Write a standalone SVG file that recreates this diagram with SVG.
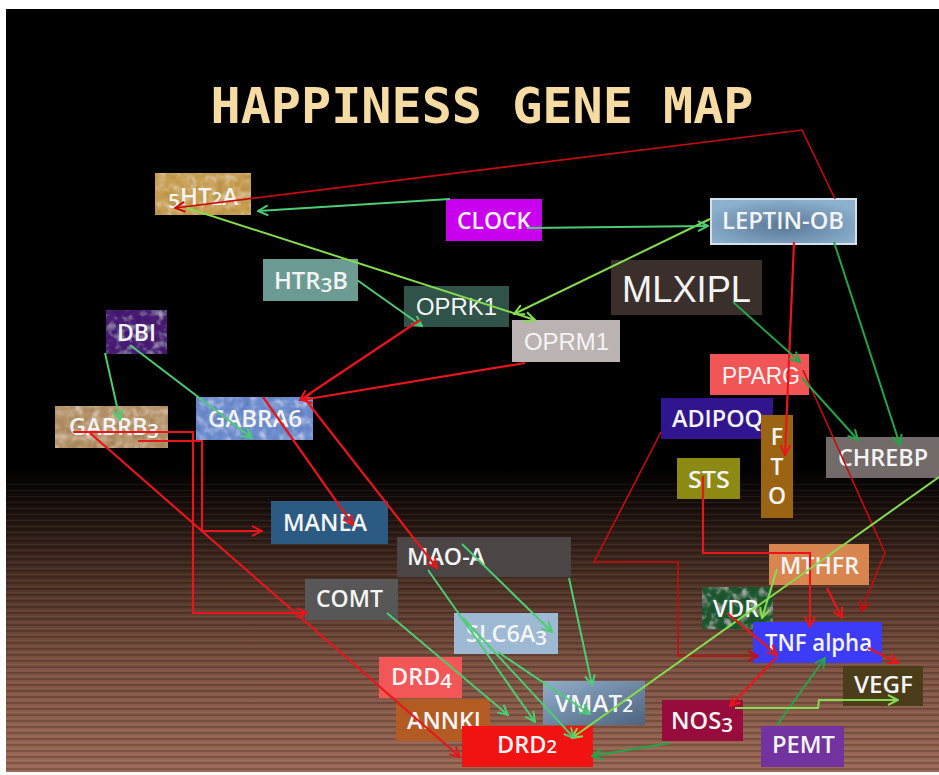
<svg xmlns="http://www.w3.org/2000/svg" width="939" height="775" viewBox="0 0 939 775">
<defs>
<linearGradient id="bg" x1="0" y1="0" x2="0" y2="1">
<stop offset="0" stop-color="#000"/>
<stop offset="0.60" stop-color="#000"/>
<stop offset="0.66" stop-color="#1e120e"/>
<stop offset="0.75" stop-color="#4e3226"/>
<stop offset="0.86" stop-color="#7d5242"/>
<stop offset="1" stop-color="#9c6a56"/>
</linearGradient>
<pattern id="stripes" width="10" height="6" patternUnits="userSpaceOnUse">
<rect width="10" height="2" fill="#000" fill-opacity="0.18"/>
<rect y="4" width="10" height="1" fill="#fff" fill-opacity="0.05"/>
</pattern>
<radialGradient id="leptin" cx="0.5" cy="0.6" r="0.6">
<stop offset="0" stop-color="#587896"/>
<stop offset="1" stop-color="#8db0cf"/>
</radialGradient>
<linearGradient id="vmat" x1="0" y1="0" x2="1" y2="1">
<stop offset="0" stop-color="#92aecb"/>
<stop offset="1" stop-color="#4c647e"/>
</linearGradient>
<filter id="tex" x="0" y="0" width="1" height="1">
<feTurbulence type="fractalNoise" baseFrequency="0.12" numOctaves="2" seed="4" result="n"/>
<feColorMatrix in="n" type="saturate" values="0" result="g"/>
<feComposite in="g" in2="SourceGraphic" operator="in" result="gi"/>
<feBlend in="SourceGraphic" in2="gi" mode="overlay"/>
</filter>
<marker id="mR" viewBox="0 0 12 12" refX="11" refY="6" markerWidth="12" markerHeight="12" orient="auto" markerUnits="userSpaceOnUse"><path d="M1,1 L11,6 L1,11" fill="none" stroke="#e8161a" stroke-width="2"/></marker>
<marker id="mDR" viewBox="0 0 12 12" refX="11" refY="6" markerWidth="12" markerHeight="12" orient="auto" markerUnits="userSpaceOnUse"><path d="M1,1 L11,6 L1,11" fill="none" stroke="#c80c0c" stroke-width="2"/></marker>
<marker id="mG" viewBox="0 0 12 12" refX="11" refY="6" markerWidth="12" markerHeight="12" orient="auto" markerUnits="userSpaceOnUse"><path d="M1,1 L11,6 L1,11" fill="none" stroke="#4ccc74" stroke-width="2"/></marker>
<marker id="mL" viewBox="0 0 12 12" refX="11" refY="6" markerWidth="12" markerHeight="12" orient="auto" markerUnits="userSpaceOnUse"><path d="M1,1 L11,6 L1,11" fill="none" stroke="#86dc4e" stroke-width="2"/></marker>
<marker id="mDG" viewBox="0 0 12 12" refX="11" refY="6" markerWidth="12" markerHeight="12" orient="auto" markerUnits="userSpaceOnUse"><path d="M1,1 L11,6 L1,11" fill="none" stroke="#22a648" stroke-width="2"/></marker>
</defs>
<style>
.lbl{font-family:"Open Sans","Noto Sans","DejaVu Sans",sans-serif;font-size:23px;font-weight:600;fill:#f4f4f4;}
.ar{font-family:"Liberation Sans",Arial,sans-serif;font-size:24px;fill:#f4f4f4;}
.big{font-size:36px;}
.d{font-size:18px;}
.dd{font-size:20px;}
.c{fill:none;stroke-width:2;}
.r{stroke:#e8161a;stroke-width:2.2;marker-end:url(#mR);}
.dr{stroke:#c80c0c;stroke-width:1.6;marker-end:url(#mDR);}
.g{stroke:#4ccc74;marker-end:url(#mG);}
.l{stroke:#86dc4e;marker-end:url(#mL);}
.dg{stroke:#22a648;marker-end:url(#mDG);}
</style>
<rect width="939" height="775" fill="#fff"/>
<rect x="6" y="9" width="933" height="763" fill="url(#bg)"/>
<rect x="6" y="480" width="933" height="292" fill="url(#stripes)"/>
<text x="482" y="123" text-anchor="middle" font-family="'DejaVu Sans Mono',monospace" font-size="50" font-weight="bold" fill="#f6dba2" textLength="543" lengthAdjust="spacingAndGlyphs">HAPPINESS GENE MAP</text>

<g id="n-5HT2A"><rect x="155" y="173" width="96" height="42" fill="#c9a153" filter="url(#tex)"/><text class="lbl" x="168" y="205" textLength="70" lengthAdjust="spacingAndGlyphs"><tspan class="dd" baseline-shift="-3">5</tspan>HT<tspan class="d">2</tspan>A</text></g>
<g id="n-CLOCK"><rect x="446" y="199" width="96" height="42" fill="#c800ee"/><text class="lbl" x="457" y="229" textLength="74" lengthAdjust="spacingAndGlyphs">CLOCK</text></g>
<g id="n-LEPTIN-OB"><rect x="711" y="199" width="145" height="45" fill="url(#leptin)" stroke="#d4e0ec" stroke-width="2"/><text class="lbl" x="722" y="229" textLength="122" lengthAdjust="spacingAndGlyphs">LEPTIN-OB</text></g>
<g id="n-HTR3B"><rect x="263" y="259" width="95" height="42" fill="#6b9b92"/><text class="lbl" x="274" y="289" textLength="74" lengthAdjust="spacingAndGlyphs">HTR<tspan class="dd" baseline-shift="-3">3</tspan>B</text></g>
<g id="n-MLXIPL"><rect x="611" y="260" width="151" height="55" fill="#3b2f2b"/><text class="ar big" x="622" y="302" textLength="129" lengthAdjust="spacingAndGlyphs">MLXIPL</text></g>
<g id="n-OPRK1"><rect x="404" y="286" width="105" height="41" fill="#2f5249"/><text class="ar" x="416" y="315" textLength="81" lengthAdjust="spacingAndGlyphs">OPRK1</text></g>
<g id="n-OPRM1"><rect x="512" y="320" width="108" height="42" fill="#bab3b2"/><text class="ar" x="524" y="350" textLength="85" lengthAdjust="spacingAndGlyphs">OPRM1</text></g>
<g id="n-DBI"><rect x="106" y="310" width="61" height="44" fill="#4b1b78" filter="url(#tex)"/><text class="lbl" x="117" y="341" textLength="39" lengthAdjust="spacingAndGlyphs">DBI</text></g>
<g id="n-PPARG"><rect x="710" y="354" width="99" height="41" fill="#f25555"/><text class="ar" x="722" y="384" textLength="78" lengthAdjust="spacingAndGlyphs">PPARG</text></g>
<g id="n-ADIPOQ"><rect x="661" y="398" width="112" height="41" fill="#30158f"/><text class="lbl" x="672" y="427" textLength="91" lengthAdjust="spacingAndGlyphs">ADIPOQ</text></g>
<g id="n-GABRB3"><rect x="55" y="406" width="113" height="42" fill="#b8956a" filter="url(#tex)"/><text class="lbl" x="69" y="435" textLength="90" lengthAdjust="spacingAndGlyphs">GABRB<tspan class="dd" baseline-shift="-3">3</tspan></text></g>
<g id="n-GABRA6"><rect x="196" y="397" width="117" height="43" fill="#6f8fd0" filter="url(#tex)"/><text class="lbl" x="208" y="427" textLength="94" lengthAdjust="spacingAndGlyphs">GABRA6</text></g>
<g id="n-FTO"><rect x="761" y="415" width="32" height="103" fill="#9b6412"/><text class="lbl" x="777" y="445" text-anchor="middle">F</text><text class="lbl" x="777" y="475" text-anchor="middle">T</text><text class="lbl" x="777" y="504" text-anchor="middle">O</text></g>
<g id="n-CHREBP"><rect x="826" y="437" width="113" height="41" fill="#736b6a"/><text class="lbl" x="838" y="466" textLength="90" lengthAdjust="spacingAndGlyphs">CHREBP</text></g>
<g id="n-STS"><rect x="677" y="458" width="63" height="41" fill="#8c8a12"/><text class="lbl" x="688" y="488" textLength="42" lengthAdjust="spacingAndGlyphs">STS</text></g>
<g id="n-MANEA"><rect x="271" y="501" width="117" height="43" fill="#2b5b82"/><text class="lbl" x="283" y="531" textLength="84" lengthAdjust="spacingAndGlyphs">MANEA</text></g>
<g id="n-MAO-A"><rect x="397" y="537" width="174" height="40" fill="#4b4545"/><text class="lbl" x="407" y="565" textLength="78" lengthAdjust="spacingAndGlyphs">MAO-A</text></g>
<g id="n-MTHFR"><rect x="769" y="544" width="100" height="41" fill="#d98550"/><text class="lbl" x="780" y="574" textLength="79" lengthAdjust="spacingAndGlyphs">MTHFR</text></g>
<g id="n-COMT"><rect x="305" y="579" width="93" height="41" fill="#575757"/><text class="lbl" x="316" y="607" textLength="67" lengthAdjust="spacingAndGlyphs">COMT</text></g>
<g id="n-VDR"><rect x="702" y="587" width="71" height="42" fill="#1f5a31" filter="url(#tex)"/><text class="lbl" x="713" y="617" textLength="46" lengthAdjust="spacingAndGlyphs">VDR</text></g>
<g id="n-SLC6A3"><rect x="454" y="613" width="104" height="41" fill="#9db9d4"/><text class="lbl" x="466" y="642" textLength="81" lengthAdjust="spacingAndGlyphs">SLC6A<tspan class="dd" baseline-shift="-3">3</tspan></text></g>
<g id="n-TNF"><rect x="753" y="622" width="129" height="41" fill="#3c3cf8"/><text class="lbl" x="765" y="651" textLength="107" lengthAdjust="spacingAndGlyphs">TNF alpha</text></g>
<g id="n-DRD4"><rect x="379" y="657" width="83" height="41" fill="#f35657"/><text class="lbl" x="391" y="685" textLength="61" lengthAdjust="spacingAndGlyphs">DRD<tspan class="dd" baseline-shift="-3">4</tspan></text></g>
<g id="n-VEGF"><rect x="843" y="666" width="80" height="40" fill="#4b3c1a"/><text class="lbl" x="854" y="693" textLength="59" lengthAdjust="spacingAndGlyphs">VEGF</text></g>
<g id="n-VMAT2"><rect x="543" y="681" width="102" height="44" fill="url(#vmat)"/><text class="lbl" x="555" y="712" textLength="78" lengthAdjust="spacingAndGlyphs">VMAT<tspan class="d">2</tspan></text></g>
<g id="n-ANNKI"><rect x="396" y="699" width="94" height="42" fill="#b25c24"/><text class="lbl" x="407" y="729" textLength="74" lengthAdjust="spacingAndGlyphs">ANNKI</text></g>
<g id="n-NOS3"><rect x="662" y="700" width="81" height="41" fill="#970c3c"/><text class="lbl" x="671" y="729" textLength="62" lengthAdjust="spacingAndGlyphs">NOS<tspan class="dd" baseline-shift="-3">3</tspan></text></g>
<g id="n-DRD2"><rect x="462" y="726" width="131" height="41" fill="#f21212"/><text class="lbl" x="497" y="753" textLength="60" lengthAdjust="spacingAndGlyphs">DRD<tspan class="d">2</tspan></text></g>
<g id="n-PEMT"><rect x="761" y="726" width="83" height="41" fill="#7232a0"/><text class="lbl" x="772" y="753" textLength="63" lengthAdjust="spacingAndGlyphs">PEMT</text></g>

<g id="connectors" class="c">
<path class="c dr" d="M835,199 L802,130 L175,208"/>
<path class="c g" d="M450,199 L258,211"/>
<path class="c l" d="M187,208 L535,320"/>
<path class="c l" d="M710,219 L514,314"/>
<path class="c g" d="M527,228 L708,226"/>
<path class="c g" d="M357,280 L422,326"/>
<path class="c r" d="M420,320 L300,400"/>
<path class="c r" d="M525,363 L302,400"/>
<path class="c g" d="M105,353 L120,420"/>
<path class="c g" d="M130,345 L252,438"/>
<path class="c r" d="M263,397 L353,525"/>
<path class="c r" d="M305,399 L437,568"/>
<path class="c r" d="M73,432 L193,432 L193,613 L307,613"/>
<path class="c r" d="M138,441 L202,441 L202,531 L262,531"/>
<path class="c r" d="M90,433 L460,757"/>
<path class="c dr" d="M661,432 L594,562 L678,562 L678,656 L758,656"/>
<path class="c r" d="M703,476 L703,553 L810,553 L810,627"/>
<path class="c dr" d="M803,370 L885,553 L861,611"/>
<path class="c r" d="M794,242 L785,455"/>
<path class="c dg" d="M733,302 L800,362"/>
<path class="c dg" d="M802,378 L858,440"/>
<path class="c dg" d="M834,242 L900,445"/>
<path class="c l" d="M939,477 L572,738"/>
<path class="c l" d="M777,569 L762,618"/>
<path class="c r" d="M827,588 L842,618"/>
<path class="c r" d="M727,613 L777,655"/>
<path class="c r" d="M777,657 L730,706"/>
<path class="c r" d="M868,648 L898,663"/>
<path class="c dg" d="M777,725 L825,658"/>
<path class="c l" d="M735,708 L818,708 L819,700 L898,700"/>
<path class="c dg" d="M670,743 L592,756"/>
<path class="c g" d="M387,613 L508,715"/>
<path class="c g" d="M428,570 L535,722"/>
<path class="c g" d="M462,544 L552,632"/>
<path class="c g" d="M569,578 L592,685"/>
<path class="c g" d="M463,618 L574,738"/>
<path class="c g" d="M498,652 L590,714"/>
</g>
</svg>
